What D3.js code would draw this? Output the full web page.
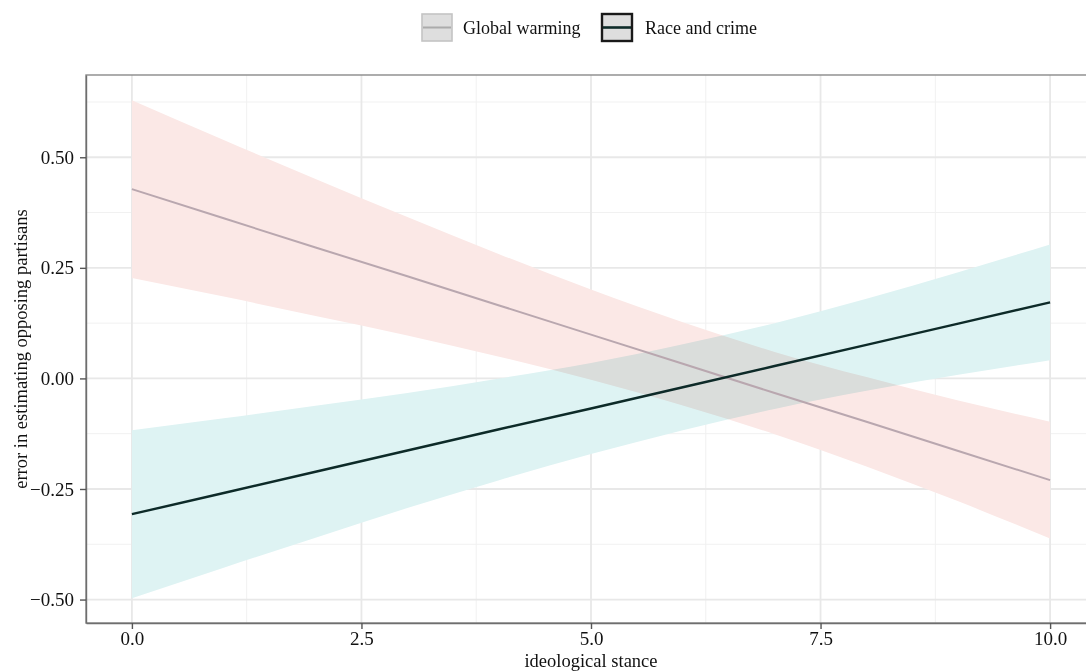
<!DOCTYPE html>
<html><head><meta charset="utf-8">
<script src="https://cdn.jsdelivr.net/npm/d3@7"></script>
<style>
html,body{margin:0;padding:0;background:#fff;}
svg text{font-family:"Liberation Serif","DejaVu Serif",serif;}
</style></head>
<body><svg id="chart" width="1086" height="672"></svg>
<script>
// ---- data ----
const stance = [0,1,2,3,4,5,6,7,8,9,10];
const warmingFit   = [0.428,0.362,0.296,0.231,0.165,0.099,0.033,-0.033,-0.098,-0.164,-0.230];
const warmingLower = [0.227,0.185,0.141,0.097,0.049,-0.003,-0.061,-0.126,-0.199,-0.278,-0.362];
const warmingUpper = [0.629,0.539,0.451,0.365,0.281,0.201,0.127,0.060,0.003,-0.050,-0.098];
const crimeFit     = [-0.307,-0.259,-0.211,-0.163,-0.115,-0.068,-0.020,0.028,0.076,0.124,0.172];
const crimeLower   = [-0.497,-0.428,-0.360,-0.293,-0.230,-0.171,-0.117,-0.069,-0.028,0.008,0.041];
const crimeUpper   = [-0.117,-0.090,-0.062,-0.033,0.000,0.035,0.077,0.125,0.180,0.240,0.303];
const seriesNames  = ["Global warming","Race and crime"];
const xTicks = [0,2.5,5,7.5,10];
const xTickLabels = ["0.0","2.5","5.0","7.5","10.0"];
const yTicks = [-0.5,-0.25,0,0.25,0.5];
const yTickLabels = ["\u22120.50","\u22120.25","0.00","0.25","0.50"];
const xMinor = [1.25,3.75,6.25,8.75];
const yMinor = [-0.375,-0.125,0.125,0.375,0.625];

// ---- layout ----
const svg = d3.select("#chart");
const P = {left:86, right:1096, top:75, bottom:623};
const x = d3.scaleLinear().domain([-0.5,10.5]).range([P.left,P.right]);
const y = d3.scaleLinear().domain([-0.553,0.686]).range([P.bottom,P.top]);

svg.append("defs").append("clipPath").attr("id","clip")
  .append("rect").attr("x",P.left).attr("y",P.top).attr("width",P.right-P.left).attr("height",P.bottom-P.top);

// grid
const grid = svg.append("g");
grid.selectAll(".ymin").data(yMinor).join("line")
  .attr("x1",P.left).attr("x2",P.right).attr("y1",d=>y(d)).attr("y2",d=>y(d))
  .attr("stroke","#f1f1f1").attr("stroke-width",1);
grid.selectAll(".xmin").data(xMinor).join("line")
  .attr("y1",P.top).attr("y2",P.bottom).attr("x1",d=>x(d)).attr("x2",d=>x(d))
  .attr("stroke","#f1f1f1").attr("stroke-width",1);
grid.selectAll(".ymaj").data(yTicks).join("line")
  .attr("x1",P.left).attr("x2",P.right).attr("y1",d=>y(d)).attr("y2",d=>y(d))
  .attr("stroke","#e8e8e8").attr("stroke-width",1.8);
grid.selectAll(".xmaj").data(xTicks).join("line")
  .attr("y1",P.top).attr("y2",P.bottom).attr("x1",d=>x(d)).attr("x2",d=>x(d))
  .attr("stroke","#e8e8e8").attr("stroke-width",1.8);

// bands
const plot = svg.append("g").attr("clip-path","url(#clip)");
const area = d3.area().x(d=>x(d.x)).y0(d=>y(d.lo)).y1(d=>y(d.hi)).curve(d3.curveMonotoneX);
const line = d3.line().x(d=>x(d.x)).y(d=>y(d.v));
const wBand = stance.map((s,i)=>({x:s,lo:warmingLower[i],hi:warmingUpper[i]}));
const cBand = stance.map((s,i)=>({x:s,lo:crimeLower[i],hi:crimeUpper[i]}));
const bands = plot.append("g").style("isolation","isolate");
bands.append("path").datum(wBand).attr("d",area).attr("fill","#fbe8e6").style("mix-blend-mode","multiply");
bands.append("path").datum(cBand).attr("d",area).attr("fill","#def3f3").style("mix-blend-mode","multiply");

plot.append("path").datum(stance.map((s,i)=>({x:s,v:warmingFit[i]}))).attr("d",line)
  .attr("fill","none").attr("stroke","#b9a7af").attr("stroke-width",2);
plot.append("path").datum(stance.map((s,i)=>({x:s,v:crimeFit[i]}))).attr("d",line)
  .attr("fill","none").attr("stroke","#0d2a28").attr("stroke-width",2.4);

// panel border (top & left visible; right is off-canvas)
svg.append("rect").attr("x",P.left).attr("y",P.top).attr("width",P.right-P.left).attr("height",P.bottom-P.top)
  .attr("fill","none").attr("stroke","#8a8a8a").attr("stroke-width",1.4);

// axes
const xAxis = d3.axisBottom(x).tickValues(xTicks).tickFormat((d,i)=>xTickLabels[i]).tickSizeInner(6).tickSizeOuter(0).tickPadding(3);
const yAxis = d3.axisLeft(y).tickValues(yTicks).tickFormat((d,i)=>yTickLabels[i]).tickSizeInner(6).tickSizeOuter(0).tickPadding(6);
const gx = svg.append("g").attr("transform",`translate(0,${P.bottom})`).call(xAxis);
const gy = svg.append("g").attr("transform",`translate(${P.left},0)`).call(yAxis);
[gx,gy].forEach(g=>{
  g.select(".domain").attr("stroke","#6e6e6e").attr("stroke-width",1.4);
  g.selectAll(".tick line").attr("stroke","#555").attr("stroke-width",1.4);
  g.selectAll(".tick text").attr("fill","#111").style("font-size","19px").style("font-family","Liberation Serif, serif");
});

// axis titles
svg.append("text").attr("x",(P.left+P.right)/2).attr("y",667).attr("text-anchor","middle")
  .style("font-size","18.5px").attr("fill","#111").text("ideological stance");
svg.append("text").attr("transform",`translate(27,${(P.top+P.bottom)/2}) rotate(-90)`).attr("text-anchor","middle")
  .style("font-size","18.5px").attr("fill","#111").text("error in estimating opposing partisans");

// legend
const leg = svg.append("g");
const legItems = [
  {name:seriesNames[0], kx:422, tx:463, border:"#c4c4c4", bw:1.6, lc:"#ababab", lw:2},
  {name:seriesNames[1], kx:602, tx:645, border:"#1a1a1a", bw:2.4, lc:"#0d2a28", lw:2.6}
];
legItems.forEach(it=>{
  leg.append("rect").attr("x",it.kx).attr("y",14).attr("width",30).attr("height",27)
    .attr("fill","#dedede").attr("stroke",it.border).attr("stroke-width",it.bw);
  leg.append("line").attr("x1",it.kx+1).attr("x2",it.kx+29).attr("y1",27.5).attr("y2",27.5)
    .attr("stroke",it.lc).attr("stroke-width",it.lw);
  leg.append("text").attr("x",it.tx).attr("y",34).style("font-size","18px").attr("fill","#111").text(it.name);
});
</script></body></html>
